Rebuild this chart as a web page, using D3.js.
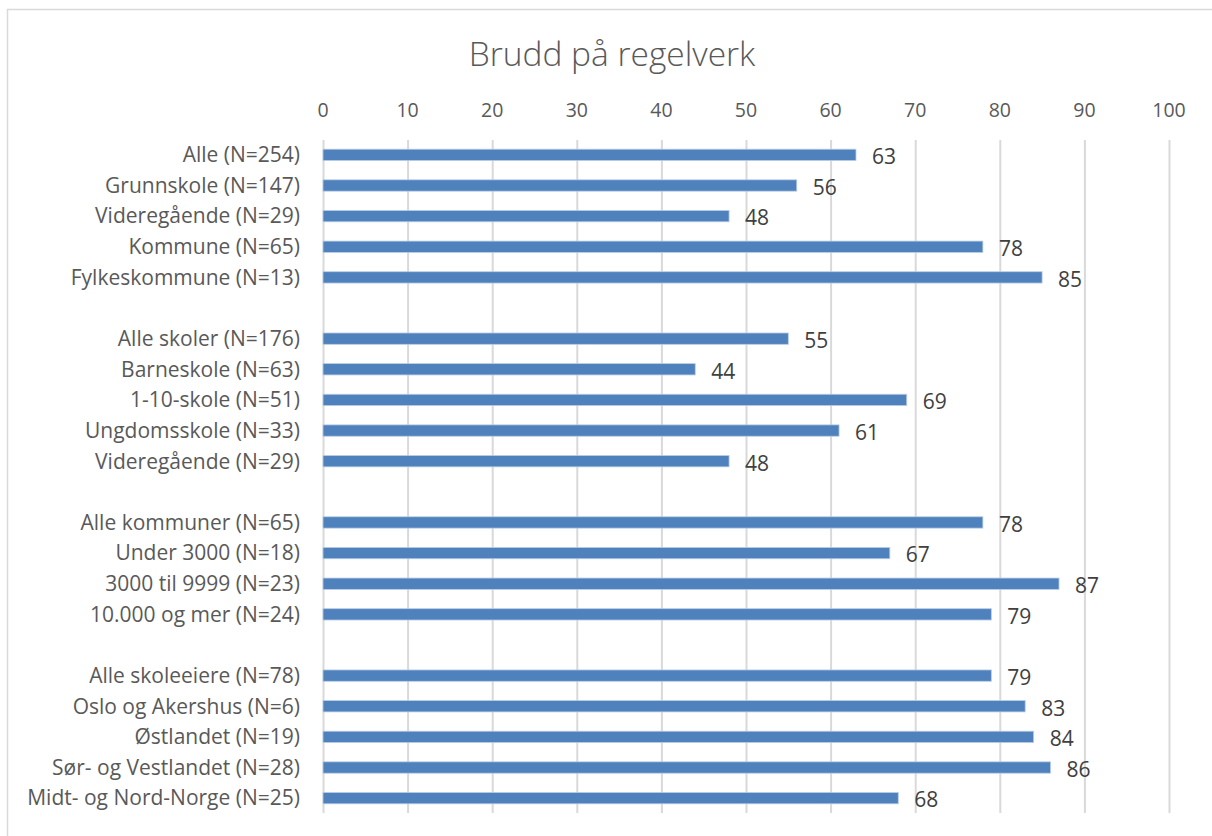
<!DOCTYPE html>
<html lang="no">
<head>
    <meta charset="UTF-8">
    <script src="https://d3js.org/d3.v7.min.js"></script>
    <title>Brudd på regelverk</title>
    <style>
        body {
            margin: 0;
            background: #fff;
            font-family: 'Open Sans', Lato, sans-serif;
        }
        .grid line {
            stroke: #d9d9d9;
            stroke-width: 2px;
        }
        .grid path {
            stroke: none;
        }
        .tick-lab {
            fill: #595959;
            font-size: 19.5px;
        }
        .cat-lab {
            fill: #595959;
            font-size: 21px;
        }
        .val-lab {
            fill: #404040;
            font-size: 21px;
        }
    </style>
</head>
<body>
    <svg width="1212" height="836"></svg>
    <script>
        // Categories (empty strings are gaps between groups)
        const categories = [
            "Alle (N=254)", "Grunnskole (N=147)", "Videregående (N=29)", "Kommune (N=65)", "Fylkeskommune (N=13)",
            "",
            "Alle skoler (N=176)", "Barneskole (N=63)", "1-10-skole (N=51)", "Ungdomsskole (N=33)", "Videregående (N=29)",
            "",
            "Alle kommuner (N=65)", "Under 3000 (N=18)", "3000 til 9999 (N=23)", "10.000 og mer (N=24)",
            "",
            "Alle skoleeiere (N=78)", "Oslo og Akershus (N=6)", "Østlandet (N=19)", "Sør- og Vestlandet (N=28)", "Midt- og Nord-Norge (N=25)"
        ];
        const values = [
            63, 56, 48, 78, 85,
            null,
            55, 44, 69, 61, 48,
            null,
            78, 67, 87, 79,
            null,
            79, 83, 84, 86, 68
        ];
        const xTicks = [0, 10, 20, 30, 40, 50, 60, 70, 80, 90, 100];
        const title = "Brudd på regelverk";

        const width = 1212, height = 836;
        const margin = { top: 140, right: 43, bottom: 23, left: 323 };

        const svg = d3.select("svg");

        // chart frame
        svg.append("rect")
            .attr("x", 7.5).attr("y", 9.5)
            .attr("width", 1210).attr("height", 840)
            .attr("fill", "none")
            .attr("stroke", "#d9d9d9")
            .attr("stroke-width", 1.5);

        const x = d3.scaleLinear()
            .domain([0, 100])
            .range([margin.left, width - margin.right]);

        const y = d3.scaleBand()
            .domain(d3.range(categories.length))
            .range([margin.top, height - margin.bottom])
            .paddingInner(0.63)
            .paddingOuter(0.3);

        // title
        svg.append("text")
            .attr("x", 612).attr("y", 66)
            .attr("text-anchor", "middle")
            .attr("fill", "#595959")
            .style("font-size", "33.5px")
            .style("font-weight", 300)
            .text(title);

        // gridlines
        svg.append("g")
            .attr("class", "grid")
            .attr("transform", `translate(0,${margin.top})`)
            .call(d3.axisTop(x).tickValues(xTicks).tickSize(-(height - margin.bottom - margin.top)).tickFormat(""));

        // top tick labels
        svg.append("g")
            .selectAll("text")
            .data(xTicks)
            .join("text")
            .attr("class", "tick-lab")
            .attr("x", d => x(d))
            .attr("y", 117)
            .attr("text-anchor", "middle")
            .text(d => d);

        const rows = categories.map((c, i) => ({ i, cat: c, v: values[i] }));
        const filled = rows.filter(d => d.v !== null);

        // bars
        svg.selectAll(".bar")
            .data(filled)
            .join("rect")
            .attr("class", "bar")
            .attr("x", x(0))
            .attr("y", d => y(d.i))
            .attr("width", d => x(d.v) - x(0))
            .attr("height", y.bandwidth())
            .attr("fill", "#4f81bd")
            .attr("stroke", "#b9cde5")
            .attr("stroke-width", 0.8);

        // category labels
        svg.selectAll(".cat-lab")
            .data(filled)
            .join("text")
            .attr("class", "cat-lab")
            .attr("x", margin.left - 23)
            .attr("y", d => y(d.i) + y.bandwidth() / 2)
            .attr("dy", "0.35em")
            .attr("text-anchor", "end")
            .text(d => d.cat);

        // value labels
        svg.selectAll(".val-lab")
            .data(filled)
            .join("text")
            .attr("class", "val-lab")
            .attr("x", d => x(d.v) + 16)
            .attr("y", d => y(d.i) + y.bandwidth() / 2 + 2)
            .attr("dy", "0.35em")
            .text(d => d.v);
    </script>
</body>
</html>
